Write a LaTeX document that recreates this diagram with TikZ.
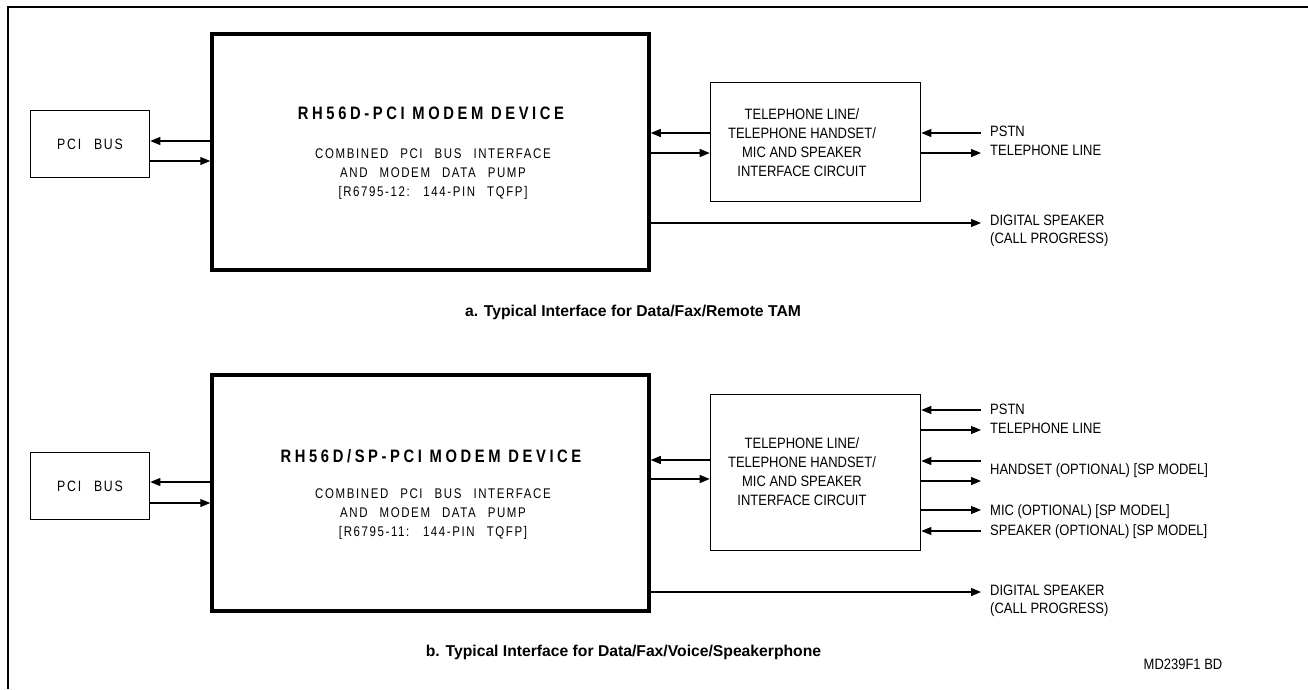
\documentclass[tikz,border=0pt]{standalone}
\usepackage{fontspec}
\setmainfont{Liberation Sans}
\newfontfamily\narrowfont{Liberation Sans}[FakeStretch=0.865]
\newfontfamily\spacedfont{Liberation Sans}[FakeStretch=0.82, LetterSpace=11.5, WordSpace=2.5]
\newfontfamily\titlefont{Liberation Sans}[FakeStretch=0.82, LetterSpace=20]
\usetikzlibrary{arrows.meta}

\begin{document}
\begin{tikzpicture}
  [x=1pt, y=-1pt,
   bus/.style={
    draw,
    rectangle,
    line width=1.6pt,
    minimum width=119pt,
    minimum height=67pt,
    inner sep=0pt,
    font=\spacedfont\fontsize{15}{18}\selectfont}, modem/.style={
    draw,
    rectangle,
    line width=3.5pt,
    minimum width=437pt,
    minimum height=236pt}, iface/.style={
    draw,
    rectangle,
    line width=1.6pt,
    minimum width=210pt}, sig/.style={
    line width=1.2pt,
    -{Triangle[length=10pt,width=8pt]}}, devtitle/.style={
    font=\titlefont\bfseries\fontsize{18}{21}\selectfont}, devtext/.style={
    align=center,
    font=\spacedfont\fontsize{14}{19.4}\selectfont}, ifacetext/.style={
    align=center,
    font=\narrowfont\fontsize{15}{19}\selectfont}, lbl/.style={
    anchor=west,
    align=left,
    inner sep=0pt,
    font=\narrowfont\fontsize{15}{18.5}\selectfont}, caption/.style={
    font=\bfseries\fontsize{15.7}{18}\selectfont}]

  \useasboundingbox (0,0) rectangle (1308,689);
  \draw [line width=1.5pt] (8,689) -- (8,7) -- (1308,7);

  % a. Data/Fax/Remote TAM
  \node [bus] (pcia) at (90,144) {PCI BUS};
  \node [modem] (modema) at (430.5,152) {};
  \node [devtitle] (titlea) at (431,113) {RH56D-PCI MODEM DEVICE};
  \node [devtext] (texta) at (433,174) {COMBINED PCI BUS INTERFACE\\AND MODEM DATA PUMP\\{[R6795-12: 144-PIN TQFP]}};
  \node [iface, minimum height=119pt] (ifacea) at (815.5,142) {};
  \node [ifacetext] (ifta) at (802,142.5) {TELEPHONE LINE/\\TELEPHONE HANDSET/\\MIC AND SPEAKER\\INTERFACE CIRCUIT};

  \coordinate (pstna) at (981,133);
  \coordinate (linea) at (981,153);
  \coordinate (dspka) at (981,223);

  \draw [sig] (modema.west |- 0,141) -- (pcia.east |- 0,141);
  \draw [sig] (pcia.east |- 0,161) -- (modema.west |- 0,161);
  \draw [sig] (ifacea.west |- 0,133) -- (modema.east |- 0,133);
  \draw [sig] (modema.east |- 0,153) -- (ifacea.west |- 0,153);
  \draw [sig] (pstna) -- (ifacea.east |- pstna);
  \draw [sig] (ifacea.east |- linea) -- (linea);
  \draw [sig] (modema.east |- dspka) -- (dspka);

  \node [lbl] (lblpstna) at (990,141) {PSTN\\TELEPHONE LINE};
  \node [lbl] (lbldspka) at (990,231) {DIGITAL SPEAKER\\(CALL PROGRESS)};
  \node [caption] (capa) at (633,312) {a. Typical Interface for Data/Fax/Remote TAM};

  % b. Data/Fax/Voice/Speakerphone
  \node [bus] (pcib) at (90,486) {PCI BUS};
  \node [modem] (modemb) at (430.5,493) {};
  \node [devtitle] (titleb) at (431,456) {RH56D/SP-PCI MODEM DEVICE};
  \node [devtext] (textb) at (433,514) {COMBINED PCI BUS INTERFACE\\AND MODEM DATA PUMP\\{[R6795-11: 144-PIN TQFP]}};
  \node [iface, minimum height=156pt] (ifaceb) at (815.5,472.5) {};
  \node [ifacetext] (iftb) at (802,471.5) {TELEPHONE LINE/\\TELEPHONE HANDSET/\\MIC AND SPEAKER\\INTERFACE CIRCUIT};

  \coordinate (pstnb) at (981,410);
  \coordinate (lineb) at (981,430);
  \coordinate (hsinb) at (981,461);
  \coordinate (hsoutb) at (981,481);
  \coordinate (micb) at (981,510);
  \coordinate (spkb) at (981,531);
  \coordinate (dspkb) at (981,592);

  \draw [sig] (modemb.west |- 0,482) -- (pcib.east |- 0,482);
  \draw [sig] (pcib.east |- 0,503) -- (modemb.west |- 0,503);
  \draw [sig] (ifaceb.west |- 0,460) -- (modemb.east |- 0,460);
  \draw [sig] (modemb.east |- 0,479) -- (ifaceb.west |- 0,479);
  \draw [sig] (pstnb) -- (ifaceb.east |- pstnb);
  \draw [sig] (ifaceb.east |- lineb) -- (lineb);
  \draw [sig] (hsinb) -- (ifaceb.east |- hsinb);
  \draw [sig] (ifaceb.east |- hsoutb) -- (hsoutb);
  \draw [sig] (ifaceb.east |- micb) -- (micb);
  \draw [sig] (spkb) -- (ifaceb.east |- spkb);
  \draw [sig] (modemb.east |- dspkb) -- (dspkb);

  \node [lbl] (lblpstnb) at (990,419) {PSTN\\TELEPHONE LINE};
  \node [lbl] (lblhsb) at (990,471) {HANDSET (OPTIONAL) [SP MODEL]};
  \node [lbl] (lblmicb) at (990,512) {MIC (OPTIONAL) [SP MODEL]};
  \node [lbl] (lblspkb) at (990,532) {SPEAKER (OPTIONAL) [SP MODEL]};
  \node [lbl] (lbldspkb) at (990,601) {DIGITAL SPEAKER\\(CALL PROGRESS)};
  \node [caption] (capb) at (623.5,652) {b. Typical Interface for Data/Fax/Voice/Speakerphone};

  \node [lbl, anchor=center] (figid) at (1183,664) {MD239F1 BD};
\end{tikzpicture}
\end{document}
